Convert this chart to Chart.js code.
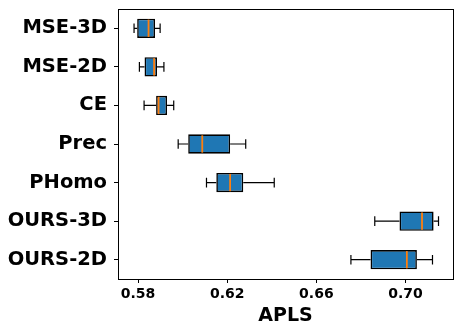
<!DOCTYPE html>
<html>
<head>
<meta charset="utf-8">
<script src="https://cdn.jsdelivr.net/npm/chart.js@4/dist/chart.umd.min.js"></script>
<style>
html,body{margin:0;padding:0;background:#fff;}
#wrap{width:460px;height:333px;position:relative;}
</style>
</head>
<body>
<div id="wrap"><canvas id="c" width="460" height="333"></canvas></div>
<script>
const categories = ["MSE-3D","MSE-2D","CE","Prec","PHomo","OURS-3D","OURS-2D"];
const whiskerLow  = [0.5782,0.5806,0.5827,0.5980,0.6107,0.6862,0.6755];
const q1          = [0.5796,0.5829,0.5881,0.6025,0.6151,0.6973,0.6843];
const medians     = [0.5847,0.5872,0.5892,0.6088,0.6213,0.7074,0.7006];
const q3          = [0.5876,0.5885,0.5930,0.6213,0.6272,0.7126,0.7051];
const whiskerHigh = [0.5899,0.5916,0.5960,0.6283,0.6411,0.7148,0.7121];
const xTicks = [0.58,0.62,0.66,0.70];
const xLabel = "APLS";

const FONT = "'DejaVu Sans'";

const boxPlugin = {
  id:'boxparts',
  afterDatasetsDraw(chart){
    const ctx = chart.ctx, xs = chart.scales.x, ys = chart.scales.y;
    const band = Math.abs(ys.getPixelForValue(1) - ys.getPixelForValue(0));
    ctx.save();
    categories.forEach((c,i)=>{
      const yc = ys.getPixelForValue(i);
      const xl = xs.getPixelForValue(whiskerLow[i]);
      const x1 = xs.getPixelForValue(q1[i]);
      const x3 = xs.getPixelForValue(q3[i]);
      const xh = xs.getPixelForValue(whiskerHigh[i]);
      const xm = xs.getPixelForValue(medians[i]);
      ctx.strokeStyle = '#000';
      ctx.lineWidth = 1.2;
      ctx.beginPath();
      ctx.moveTo(xl,yc); ctx.lineTo(x1,yc);
      ctx.moveTo(x3,yc); ctx.lineTo(xh,yc);
      ctx.moveTo(xl,yc-band*0.125); ctx.lineTo(xl,yc+band*0.125);
      ctx.moveTo(xh,yc-band*0.125); ctx.lineTo(xh,yc+band*0.125);
      ctx.stroke();
      ctx.strokeStyle = '#ff7f0e';
      ctx.lineWidth = 1.8;
      ctx.beginPath();
      ctx.moveTo(xm,yc-band*0.25+1); ctx.lineTo(xm,yc+band*0.25-1);
      ctx.stroke();
    });
    const a = chart.chartArea;
    ctx.strokeStyle = '#000';
    ctx.lineWidth = 1;
    ctx.strokeRect(Math.round(a.left)+0.5, Math.round(a.top)+0.5, Math.round(a.right-a.left), Math.round(a.bottom-a.top));
    ctx.restore();
  }
};

new Chart(document.getElementById('c'), {
  type:'bar',
  data:{
    labels:categories,
    datasets:[{
      data: categories.map((c,i)=>[q1[i], q3[i]]),
      backgroundColor:'#1f77b4',
      borderColor:'#000',
      borderWidth:1.6,
      borderSkipped:false,
      categoryPercentage:1,
      barPercentage:0.5
    }]
  },
  options:{
    indexAxis:'y',
    responsive:false,
    animation:false,
    devicePixelRatio:1,
    layout:{padding:{left:0,right:7,top:9,bottom:0}},
    plugins:{legend:{display:false},tooltip:{enabled:false}},
    scales:{
      x:{
        type:'linear',
        min:0.5710,
        max:0.7213,
        afterBuildTicks(s){ s.ticks = xTicks.map(v=>({value:v})); },
        afterFit(s){ s.height = 54; s.paddingLeft = 0; s.paddingRight = 0; },
        grid:{display:true,drawOnChartArea:false,drawTicks:true,tickLength:4,color:'#000',lineWidth:1},
        border:{display:true,color:'#000',width:1},
        ticks:{color:'#000',padding:3,maxRotation:0,font:{family:FONT,size:14,weight:'bold'},callback:(v)=>Number(v).toFixed(2)},
        title:{display:true,text:xLabel,color:'#000',padding:{top:0,bottom:6},font:{family:FONT,size:19,weight:'bold'}}
      },
      y:{
        type:'category',
        offset:true,
        afterFit(s){ s.width = 118; s.paddingTop = 0; s.paddingBottom = 0; },
        grid:{display:true,drawOnChartArea:false,drawTicks:true,tickLength:4,color:'#000',lineWidth:1,offset:false},
        border:{display:true,color:'#000',width:1},
        ticks:{color:'#000',padding:7,font:{family:FONT,size:19.5,weight:'bold'}}
      }
    }
  },
  plugins:[boxPlugin]
});
</script>
</body>
</html>
